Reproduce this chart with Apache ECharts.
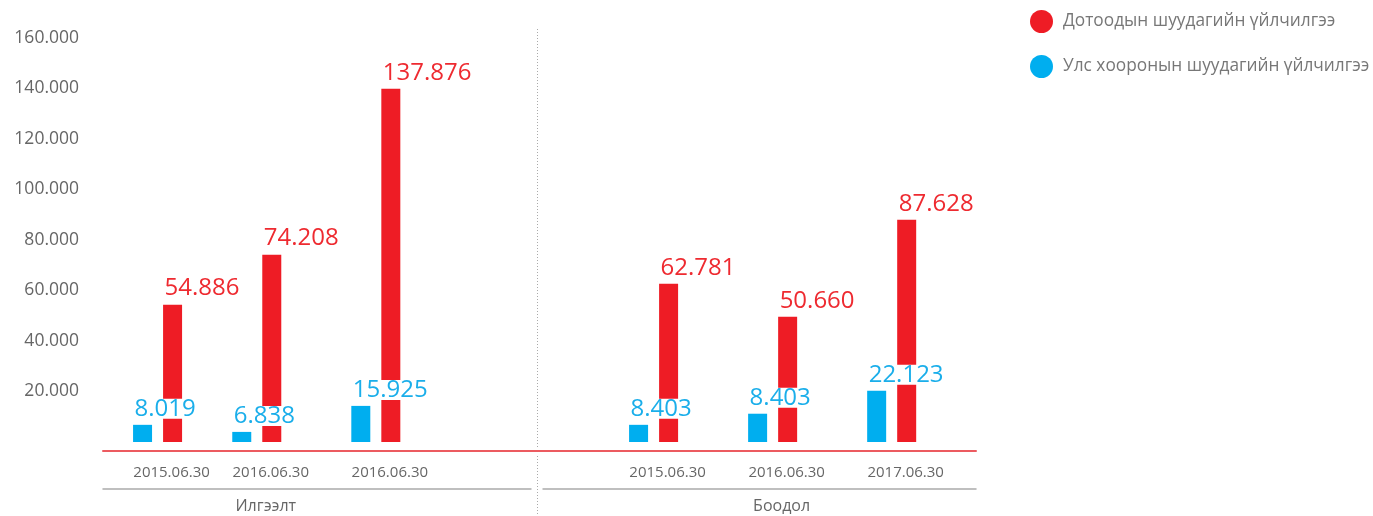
<!DOCTYPE html>
<html>
<head>
<meta charset="utf-8">
<script src="https://cdn.jsdelivr.net/npm/echarts@6/dist/echarts.min.js"></script>
<style>
    html, body { margin: 0; padding: 0; background: #fff; }
    #chart { width: 1373px; height: 516px; }
</style>
</head>
<body>
<div id="chart"></div>
<script>
    // data
    var categories = ['2015.06.30', '2016.06.30', '2016.06.30', '2015.06.30', '2016.06.30', '2017.06.30'];
    var groups = ['Илгээлт', 'Боодол'];
    var domestic = [54400, 74200, 139900, 62700, 49600, 88000];
    var international = [6800, 4000, 14300, 6800, 11200, 20300];
    var domesticLabels = ['54.886', '74.208', '137.876', '62.781', '50.660', '87.628'];
    var internationalLabels = ['8.019', '6.838', '15.925', '8.403', '8.403', '22.123'];
    var domesticName = 'Дотоодын шуудагийн үйлчилгээ';
    var internationalName = 'Улс хооронын шуудагийн үйлчилгээ';

    // layout: the categories are not evenly spaced, so they sit on a fine slot grid
    var slotCount = 88;
    var slotOf = [5, 15, 27, 55, 67, 79];
    var groupSlot = [15, 67];
    var separatorSlot = 43.25;

    function slots(fill, idx, vals) {
        var arr = [];
        for (var i = 0; i < slotCount; i++) arr.push(fill);
        idx.forEach(function (s, k) { arr[s] = vals[k]; });
        return arr;
    }

    var font = '"Open Sans", "Noto Sans", sans-serif';

    function barLabel(color, texts) {
        return {
            show: true,
            position: 'top',
            align: 'left',
            distance: 6,
            offset: [-8, 0],
            color: color,
            fontFamily: font,
            fontSize: 24,
            lineHeight: 20,
            backgroundColor: '#fff',
            formatter: function (p) {
                return texts[slotOf.indexOf(p.dataIndex)];
            }
        };
    }

    var dom = document.getElementById('chart');
    var myChart = echarts.init(dom);
    var option = {
        animation: false,
        color: ['#00aeef', '#ee1c25'],
        legend: {
            orient: 'vertical',
            left: 1025,
            top: 5,
            icon: 'circle',
            itemWidth: 23,
            itemHeight: 23,
            itemGap: 22,
            data: [domesticName, internationalName],
            textStyle: {
                fontFamily: font,
                fontSize: 17.3,
                color: '#777',
                padding: [0, 0, 0, 5]
            }
        },
        grid: {
            left: 103,
            right: 397,
            top: 38,
            bottom: 74
        },
        xAxis: [
            {
                type: 'category',
                data: slots('', slotOf, categories),
                offset: 9,
                axisLine: { onZero: false, lineStyle: { color: '#ec5b60', width: 2 } },
                axisTick: { show: false },
                axisLabel: {
                    interval: 0,
                    margin: 14,
                    padding: [0, 0, 0, 28],
                    color: '#666',
                    fontFamily: font,
                    fontSize: 15
                }
            },
            {
                type: 'category',
                position: 'bottom',
                data: slots('', groupSlot, groups),
                offset: 47,
                axisLine: { onZero: false, lineStyle: { color: '#aaa', width: 1.5 } },
                axisTick: { show: false },
                axisLabel: {
                    interval: 0,
                    margin: 9,
                    padding: [0, 0, 0, 18],
                    color: '#666',
                    fontFamily: font,
                    fontSize: 16
                }
            }
        ],
        yAxis: {
            type: 'value',
            min: 0,
            max: 160000,
            interval: 20000,
            axisLine: { show: false },
            axisTick: { show: false },
            splitLine: { show: false },
            axisLabel: {
                margin: 24,
                color: '#666',
                fontFamily: font,
                fontSize: 17.5,
                formatter: function (v) {
                    return v === 0 ? '' : (v / 1000) + '.000';
                }
            }
        },
        series: [
            {
                name: internationalName,
                type: 'bar',
                z: 3,
                barWidth: 19,
                barGap: '58%',
                data: slots('-', slotOf, international),
                label: barLabel('#1aaeea', internationalLabels)
            },
            {
                name: domesticName,
                type: 'bar',
                barWidth: 19,
                data: slots('-', slotOf, domestic),
                label: barLabel('#ee2a30', domesticLabels)
            }
        ]
    };
    myChart.setOption(option, true);

    // dotted separator between the two groups, placed through the axes
    var x0 = myChart.convertToPixel({ xAxisIndex: 0 }, Math.floor(separatorSlot));
    var x1 = myChart.convertToPixel({ xAxisIndex: 0 }, Math.floor(separatorSlot) + 1);
    var sepX = Math.round(x0 + (x1 - x0) * (separatorSlot % 1)) + 0.5;
    var zeroY = myChart.convertToPixel({ yAxisIndex: 0 }, 0);
    var topY = myChart.convertToPixel({ yAxisIndex: 0 }, 160000) - 9;
    var dotted = { stroke: '#aaa', lineWidth: 1, lineDash: [1, 2] };
    myChart.setOption({
        graphic: [
            { type: 'line', z: 100, shape: { x1: sepX, y1: topY, x2: sepX, y2: zeroY + 5 }, style: dotted },
            { type: 'line', z: 100, shape: { x1: sepX, y1: zeroY + 14, x2: sepX, y2: 516 }, style: dotted },
            { type: 'rect', z: 99, shape: { x: sepX - 6, y: zeroY + 42, width: 11, height: 10 }, style: { fill: '#fff' } }
        ]
    });
</script>
</body>
</html>
